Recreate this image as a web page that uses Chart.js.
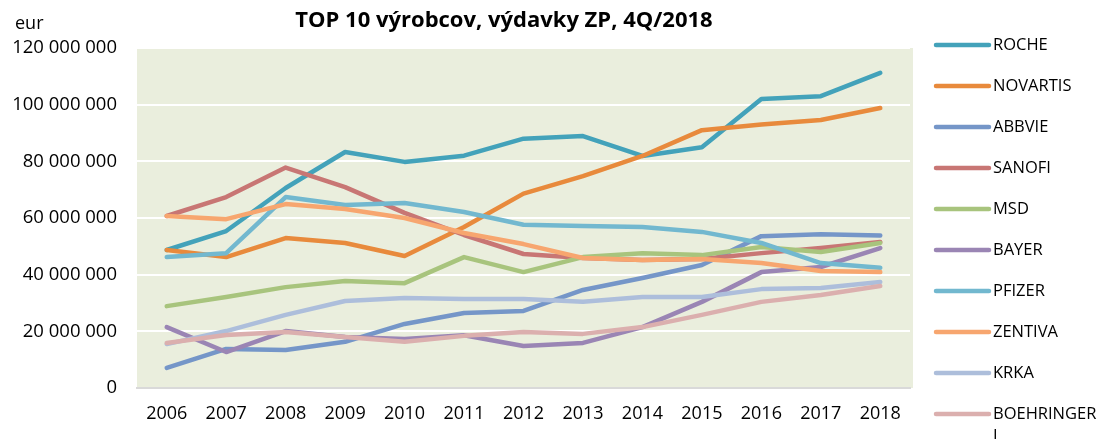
<!DOCTYPE html>
<html>
<head>
<meta charset="utf-8">
<script src="https://cdn.jsdelivr.net/npm/chart.js@4/dist/chart.umd.min.js"></script>
<style>
html,body{margin:0;padding:0;background:#fff}
#wrap{width:1097px;height:439px;position:relative}
</style>
</head>
<body>
<div id="wrap"><canvas id="chart" width="1097" height="439"></canvas></div>
<script>
let years=['2006','2007','2008','2009','2010','2011','2012','2013','2014','2015','2016','2017','2018']

let roche=[48700000,55400000,70600000,83300000,79800000,82000000,88000000,88900000,81900000,85000000,102000000,103000000,111200000]
let novartis=[48700000,46200000,52900000,51200000,46600000,56800000,68600000,74800000,81900000,91000000,93000000,94600000,98800000]
let abbvie=[7100000,13800000,13400000,16300000,22600000,26500000,27200000,34600000,38800000,43400000,53600000,54300000,53800000]
let sanofi=[60700000,67400000,77800000,70900000,61800000,54000000,47300000,45900000,45200000,45500000,47600000,49400000,51500000]
let msd=[28900000,32100000,35600000,37800000,37000000,46200000,40900000,46200000,47600000,46900000,49800000,48000000,51200000]
let bayer=[21500000,12700000,20100000,18000000,17300000,18600000,14800000,15900000,21500000,30400000,40900000,42700000,49400000]
let pfizer=[46200000,47600000,67400000,64600000,65300000,62100000,57600000,57200000,56800000,55100000,51200000,44100000,42400000]
let zentiva=[60700000,59600000,64900000,63200000,60000000,54700000,50800000,45900000,45200000,45500000,44100000,41300000,40900000]
let krka=[15500000,20100000,25800000,30700000,31800000,31400000,31400000,30400000,32100000,32100000,34900000,35300000,37400000]
let boehringer=[15900000,18700000,19800000,18000000,16300000,18400000,19800000,19100000,21500000,25800000,30400000,32800000,36000000]

let names=['ROCHE','NOVARTIS','ABBVIE','SANOFI','MSD','BAYER','PFIZER','ZENTIVA','KRKA','BOEHRINGER I']
let series=[roche,novartis,abbvie,sanofi,msd,bayer,pfizer,zentiva,krka,boehringer]
let colors=['#43a2ba','#e88a3c','#7596c8','#c87674','#a8c47d','#9a85b4','#72b8cf','#f7a66f','#adbedb','#dbafae']

let yTicks=[0,20000000,40000000,60000000,80000000,100000000,120000000]

const font='"Open Sans", sans-serif'

function formatNum(v){
return String(v).replace(/\B(?=(\d{3})+(?!\d))/g,' ')
}

let datasets=series.map((data,i)=>({
label:names[i],
data:data,
borderColor:colors[i],
backgroundColor:colors[i],
borderWidth:4.5,
pointRadius:0,
borderCapStyle:'round',
borderJoinStyle:'round',
tension:0,
order:-i
}))

const decor={
id:'decor',
beforeDraw(chart){
let ctx=chart.ctx
let a=chart.chartArea
ctx.save()
ctx.fillStyle='#eaeedd'
ctx.fillRect(a.left,a.top,a.right-a.left+3,a.bottom-a.top)
ctx.restore()
},
afterDraw(chart){
let ctx=chart.ctx
ctx.save()
ctx.fillStyle='#000'
ctx.textBaseline='middle'
ctx.textAlign='center'
ctx.font='bold 22px '+font
ctx.fillText('TOP 10 výrobcov, výdavky ZP, 4Q/2018',504,21)
ctx.textAlign='left'
ctx.font='18px '+font
ctx.fillText('eur',15,24)

// legend
ctx.font='16.5px '+font
chart.data.datasets.forEach((ds,i)=>{
let y=45+i*41
ctx.strokeStyle=ds.borderColor
ctx.lineWidth=4.5
ctx.lineCap='round'
ctx.beginPath()
ctx.moveTo(936,y)
ctx.lineTo(989,y)
ctx.stroke()
ctx.fillStyle='#000'
let words=ds.label.split(' ')
let line=''
let ly=y
words.forEach(w=>{
let test=line?line+' '+w:w
if(line && ctx.measureText(test).width>1097-993){
ctx.fillText(line,993,ly)
line=w
ly+=22
}else{
line=test
}
})
ctx.fillText(line,993,ly)
})
ctx.restore()
}
}

new Chart(document.getElementById('chart'),{
type:'line',
data:{labels:years,datasets:datasets},
options:{
responsive:false,
animation:false,
devicePixelRatio:1,
layout:{padding:{top:48,right:187,left:0,bottom:0}},
plugins:{legend:{display:false},title:{display:false},tooltip:{enabled:false}},
scales:{
x:{
offset:true,
grid:{display:false,drawTicks:false},
border:{display:true,color:'#d9d9d9',width:2},
ticks:{color:'#000',font:{family:font,size:18},padding:15,maxRotation:0,autoSkip:false},
afterFit(s){s.height=51}
},
y:{
min:0,
max:120000000,
afterBuildTicks(s){s.ticks=yTicks.map(v=>({value:v}))},
grid:{color:'#ffffff',lineWidth:2,drawTicks:false},
border:{display:false},
ticks:{color:'#000',font:{family:font,size:18.5},padding:20,callback:v=>formatNum(v)},
afterFit(s){s.width=137}
}
}
},
plugins:[decor]
})
</script>
</body>
</html>
